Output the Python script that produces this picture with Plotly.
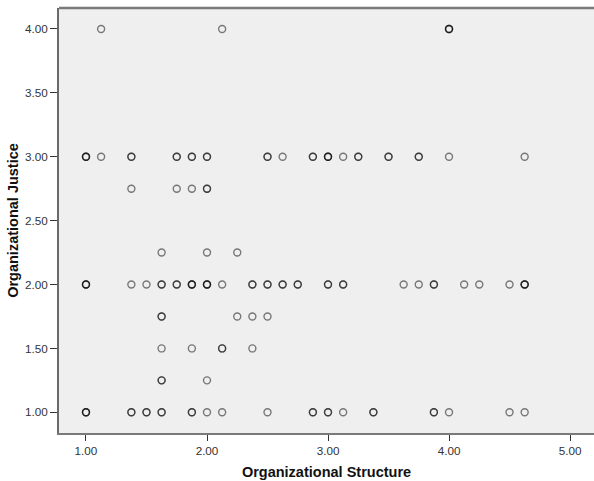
import plotly.graph_objects as go

# Data: (Organizational Structure, Organizational Justice, number of overlapping cases)
org_structure = [
    1.125, 2.125, 4.0,
    1.0, 1.125, 1.375, 1.75, 1.875, 2.0, 2.5, 2.625, 2.875, 3.0, 3.125, 3.25, 3.5, 3.75, 4.0, 4.625,
    1.375, 1.75, 1.875, 2.0,
    1.625, 2.0, 2.25,
    1.0, 1.375, 1.5, 1.625, 1.75, 1.875, 2.0, 2.125, 2.375, 2.5, 2.625, 2.75, 3.0, 3.125,
    3.625, 3.75, 3.875, 4.125, 4.25, 4.5, 4.625,
    1.625, 2.25, 2.375, 2.5,
    1.625, 1.875, 2.125, 2.375,
    1.625, 2.0,
    1.0, 1.375, 1.5, 1.625, 1.875, 2.0, 2.125, 2.5, 2.875, 3.0, 3.125, 3.375, 3.875, 4.0, 4.5, 4.625,
]
org_justice = (
    [4.0] * 3
    + [3.0] * 16
    + [2.75] * 4
    + [2.25] * 3
    + [2.0] * 21
    + [1.75] * 4
    + [1.5] * 4
    + [1.25] * 2
    + [1.0] * 16
)
n_cases = [
    1, 1, 3,
    3, 1, 2, 2, 2, 2, 2, 1, 2, 3, 1, 2, 2, 2, 1, 1,
    1, 1, 1, 2,
    1, 1, 1,
    3, 1, 1, 2, 2, 3, 3, 1, 2, 2, 2, 2, 2, 2,
    1, 1, 2, 1, 1, 1, 3,
    2, 1, 1, 1,
    1, 1, 2, 1,
    2, 1,
    3, 2, 2, 2, 2, 1, 1, 1, 2, 2, 1, 2, 2, 1, 1, 1,
]

x_ticks = [1, 2, 3, 4, 5]
y_ticks = [1.0, 1.5, 2.0, 2.5, 3.0, 3.5, 4.0]

xs, ys = [], []
for x, y, n in zip(org_structure, org_justice, n_cases):
    xs += [x] * n
    ys += [y] * n

fig = go.Figure(
    go.Scatter(
        x=xs, y=ys, mode="markers",
        marker=dict(symbol="circle-open", size=7, color="rgba(0,0,0,0.5)",
                    line=dict(width=1.4)),
        hoverinfo="x+y", showlegend=False,
    )
)

font = "Liberation Sans, Arial, sans-serif"
fig.update_layout(
    width=594, height=481,
    margin=dict(l=59, r=0, t=8, b=48),
    paper_bgcolor="white", plot_bgcolor="#EFEFEF",
    font=dict(family=font, color="#333"),
    shapes=[dict(type="line", xref="paper", yref="paper", x0=0, x1=1.05, y0=1, y1=1,
                 line=dict(color="#7a7a7a", width=2.5))],
)
fig.update_xaxes(
    range=[0.777, 5.198], tickvals=x_ticks,
    ticktext=[f"{v:.2f}" for v in x_ticks],
    showgrid=False, zeroline=False,
    showline=True, linecolor="#7a7a7a", linewidth=2, mirror=False,
    ticks="outside", ticklen=6, tickcolor="#333", tickwidth=1,
    tickfont=dict(size=11.7, color="#333"),
    title=dict(text="<b>Organizational Structure</b>", font=dict(size=14.5, color="#111"),
               standoff=11),
)
fig.update_yaxes(
    range=[0.838, 4.164], tickvals=y_ticks,
    ticktext=[f"{v:.2f}" for v in y_ticks],
    showgrid=False, zeroline=False,
    showline=True, linecolor="#6a6a6a", linewidth=2, mirror=False,
    ticks="outside", ticklen=7, tickcolor="#333", tickwidth=1,
    tickfont=dict(size=11.7, color="#333"),
    title=dict(text="<b>Organizational Justice</b>", font=dict(size=14.5, color="#111"),
               standoff=3),
)

fig.write_html("out.html")
